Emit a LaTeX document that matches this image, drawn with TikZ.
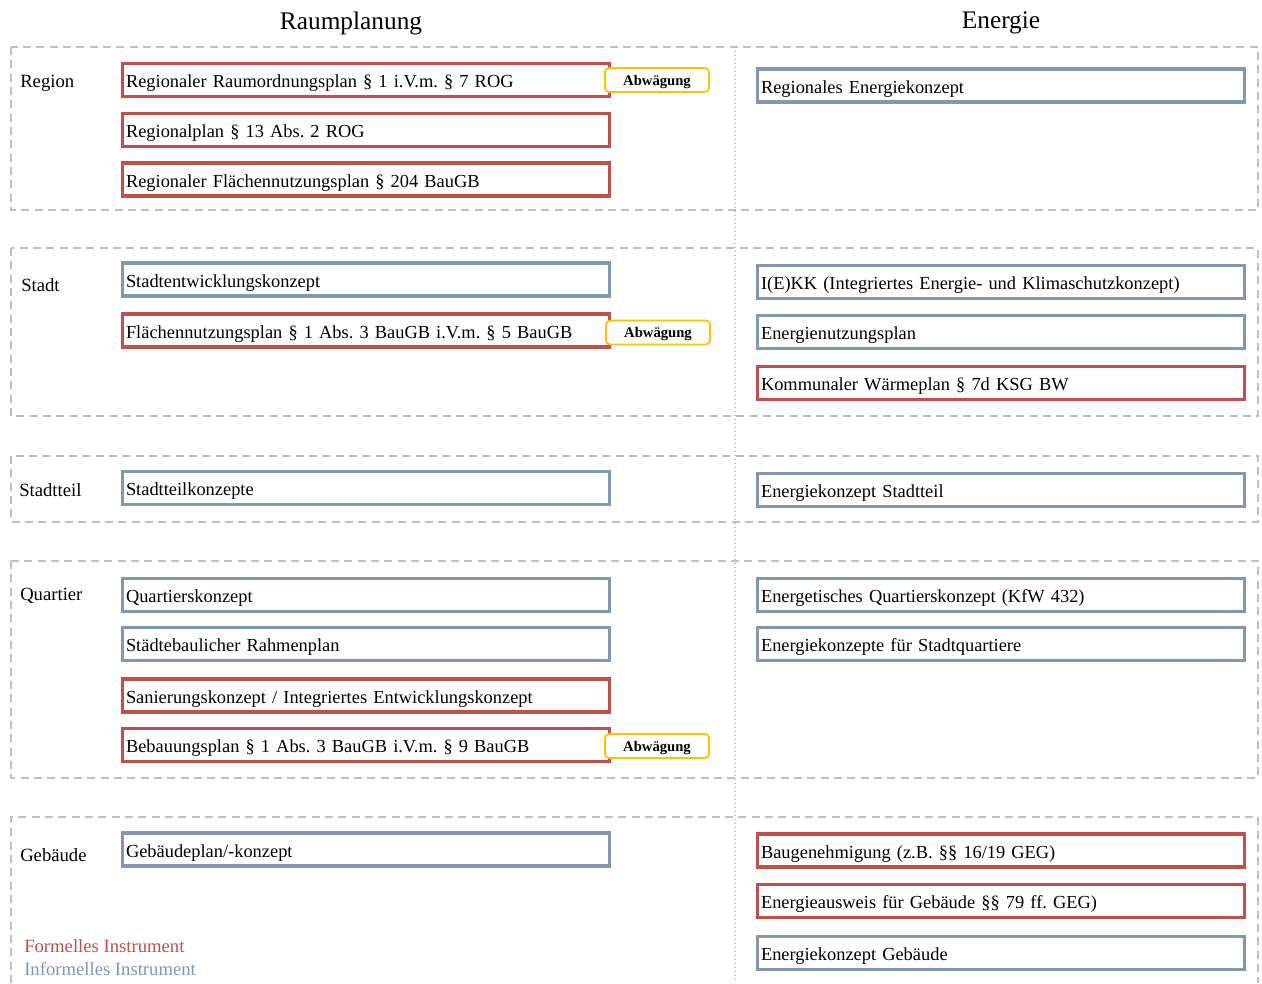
\documentclass[tikz,border=0pt]{standalone}
\usepackage{fontspec}
\setmainfont{Liberation Serif}
\frenchspacing
\usetikzlibrary{positioning}
\definecolor{formred}{HTML}{C0504D}
\definecolor{infblue}{HTML}{8497B0}
\definecolor{abwgold}{HTML}{FFC000}
\definecolor{bandgray}{HTML}{BFBFBF}
\tikzset{
  planbox/.style={draw, line width=2.4pt, minimum height=24.75pt, text width=360pt, text height=11.5pt, text depth=0pt, inner xsep=2.5pt, inner ysep=0pt, align=left, font=\fontsize{13.8}{16}\selectfont, fill=white},
  formal/.style={planbox, draw=formred},
  informal/.style={planbox, draw=infblue},
  abwbox/.style={draw=abwgold, line width=1.3pt, rounded corners=3pt, fill=white, minimum width=78pt, minimum height=18pt, text height=8pt, text depth=0pt, inner sep=0pt, font=\fontsize{11}{12}\selectfont\bfseries},
  band/.style={draw=bandgray, line width=1.5pt, dash pattern=on 6pt off 4pt},
  levellabel/.style={anchor=west, inner sep=0pt, font=\fontsize{14}{16}\selectfont},
  coltitle/.style={font=\fontsize{19}{22}\selectfont},
  legendtext/.style={anchor=west, inner sep=0pt, font=\fontsize{14}{16}\selectfont}
}

\begin{document}
\begin{tikzpicture}[x=0.75pt, y=-0.75pt]
\useasboundingbox (0,0) rectangle (1262,983);
\draw[bandgray, line width=1pt, dotted] (735,47) -- (735,983);
\draw[band] (11,47) rectangle (1258,210);
\draw[band] (11,248) rectangle (1258,416);
\draw[band] (11,456) rectangle (1258,522);
\draw[band] (11,561) rectangle (1258,778);
\draw[band] (11,983) -- (11,817) -- (1258,817) -- (1258,983);
\node[coltitle] (raum) at (351,23) {Raumplanung};
\node[coltitle] (energie) at (1001,23) {Energie};
\node[levellabel] (lregion) at (20,83) {Region};
\node[levellabel] (lstadt) at (21,285) {Stadt};
\node[levellabel] (lstadtteil) at (19,490) {Stadtteil};
\node[levellabel] (lquartier) at (20,596) {Quartier};
\node[levellabel] (lgebaeude) at (20,855) {Gebäude};
\node[formal] (rrop) at (366,80) {Regionaler Raumordnungsplan § 1 i.V.m. § 7 ROG};
\node[formal] (rplan) at (366,130) {Regionalplan § 13 Abs. 2 ROG};
\node[formal] (rfnp) at (366,179.5) {Regionaler Flächennutzungsplan § 204 BauGB};
\node[informal] (rek) at (1001,85.5) {Regionales Energiekonzept};
\node[informal] (stek) at (366,279.5) {Stadtentwicklungskonzept};
\node[formal] (fnp) at (366,330.5) {Flächennutzungsplan § 1 Abs. 3 BauGB i.V.m. § 5 BauGB};
\node[informal] (iekk) at (1001,282) {I(E)KK (Integriertes Energie- und Klimaschutzkonzept)};
\node[informal] (enp) at (1001,332) {Energienutzungsplan};
\node[formal] (kwp) at (1001,383) {Kommunaler Wärmeplan § 7d KSG BW};
\node[informal] (stk) at (366,488) {Stadtteilkonzepte};
\node[informal] (eks) at (1001,490) {Energiekonzept Stadtteil};
\node[informal] (qk) at (366,595) {Quartierskonzept};
\node[informal] (srp) at (366,644) {Städtebaulicher Rahmenplan};
\node[formal] (sank) at (366,695.5) {Sanierungskonzept / Integriertes Entwicklungskonzept};
\node[formal] (bplan) at (366,745) {Bebauungsplan § 1 Abs. 3 BauGB i.V.m. § 9 BauGB};
\node[informal] (eqk) at (1001,595) {Energetisches Quartierskonzept (KfW 432)};
\node[informal] (eksq) at (1001,644) {Energiekonzepte für Stadtquartiere};
\node[informal] (gpk) at (366,849.5) {Gebäudeplan/-konzept};
\node[formal] (bgen) at (1001,850.5) {Baugenehmigung (z.B. §§ 16/19 GEG)};
\node[formal] (eaus) at (1001,901) {Energieausweis für Gebäude §§ 79 ff. GEG)};
\node[informal] (ekg) at (1001,953) {Energiekonzept Gebäude};
\node[abwbox] (abw1) at (657,80) {Abwägung};
\node[abwbox] (abw2) at (658,332.5) {Abwägung};
\node[abwbox] (abw3) at (657,746) {Abwägung};
\node[legendtext, text=formred] (lformal) at (24,946) {Formelles Instrument};
\node[legendtext, text=infblue] (linformal) at (24,969) {Informelles Instrument};
\end{tikzpicture}
\end{document}
